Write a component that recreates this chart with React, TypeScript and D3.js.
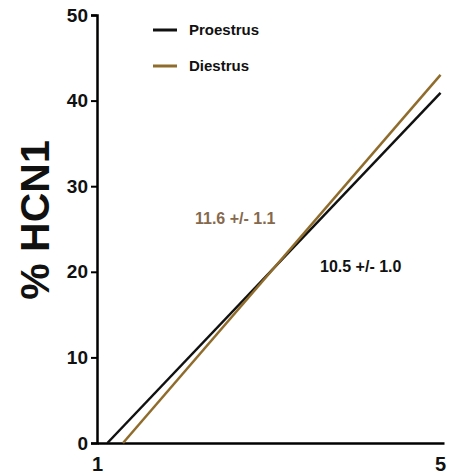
import { useEffect, useRef } from "react";
import * as d3 from "d3";

const seriesNames = ["Proestrus", "Diestrus"];
const seriesColors = ["#111111", "#8f6c2c"];
// regression lines: [x, y] endpoints
const proestrus: [number, number][] = [
  [1.12, 0],
  [4.96, 40.9],
];
const diestrus: [number, number][] = [
  [1.3, 0],
  [4.96, 43.0],
];
const slopeLabels = ["10.5 +/- 1.0", "11.6 +/- 1.1"];
const yTicks = [0, 10, 20, 30, 40, 50];
const xTicks = [1, 5];

export default function App() {
  const ref = useRef<SVGSVGElement>(null);

  useEffect(() => {
    const svg = d3.select(ref.current);
    svg.selectAll("*").remove();

    const font = "Arial, 'Liberation Sans', sans-serif";
    const x = d3.scaleLinear().domain([1, 5]).range([97, 444]);
    const y = d3.scaleLinear().domain([0, 50]).range([443, 15]);

    // y axis
    const yAxis = svg
      .append("g")
      .attr("transform", "translate(97,0)")
      .call(d3.axisLeft(y).tickValues(yTicks).tickFormat(d3.format("d")).tickSize(6).tickPadding(3));
    yAxis.select(".domain").attr("stroke", "#000").attr("stroke-width", 2.5);
    yAxis.selectAll(".tick line").attr("stroke", "#000").attr("stroke-width", 2);
    yAxis
      .selectAll(".tick text")
      .attr("font-family", font)
      .attr("font-weight", "bold")
      .attr("font-size", 19)
      .attr("fill", "#111");

    // x axis
    const xAxis = svg
      .append("g")
      .attr("transform", "translate(0,443)")
      .call(
        d3
          .axisBottom(x)
          .tickValues(xTicks)
          .tickFormat(d3.format("d"))
          .tickSize(0)
          .tickPadding(0)
          .tickSizeOuter(0)
      );
    xAxis.select(".domain").attr("stroke", "#000").attr("stroke-width", 2.5);
    xAxis
      .selectAll(".tick text")
      .attr("font-family", font)
      .attr("font-weight", "bold")
      .attr("font-size", 20)
      .attr("fill", "#111")
      .attr("dy", 0)
      .attr("dx", (d) => ((d as number) === 5 ? -4 : 0))
      .attr("y", 28);

    // y label
    svg
      .append("text")
      .attr("transform", "translate(49,220) rotate(-90)")
      .attr("text-anchor", "middle")
      .attr("font-family", font)
      .attr("font-weight", "bold")
      .attr("font-size", 41)
      .attr("fill", "#111")
      .text("% HCN1");

    const line = d3
      .line<[number, number]>()
      .x((d) => x(d[0]))
      .y((d) => y(d[1]));

    [proestrus, diestrus].forEach((d, i) => {
      svg
        .append("path")
        .attr("d", line(d))
        .attr("fill", "none")
        .attr("stroke", seriesColors[i])
        .attr("stroke-width", 2.5);
    });

    // legend
    seriesNames.forEach((name, i) => {
      const ly = 30 + i * 36;
      svg
        .append("line")
        .attr("x1", 153)
        .attr("x2", 177)
        .attr("y1", ly)
        .attr("y2", ly)
        .attr("stroke", seriesColors[i])
        .attr("stroke-width", 3);
      svg
        .append("text")
        .attr("x", 189)
        .attr("y", ly + 5)
        .attr("font-family", font)
        .attr("font-weight", "bold")
        .attr("font-size", 15)
        .attr("fill", "#111")
        .text(name);
    });

    // slope annotations
    svg
      .append("text")
      .attr("x", 320)
      .attr("y", 272)
      .attr("font-family", font)
      .attr("font-weight", "bold")
      .attr("font-size", 16)
      .attr("fill", "#111")
      .text(slopeLabels[0]);
    svg
      .append("text")
      .attr("x", 195)
      .attr("y", 224)
      .attr("font-family", font)
      .attr("font-weight", "bold")
      .attr("font-size", 16)
      .attr("fill", "#86694d")
      .text(slopeLabels[1]);
  }, []);

  return (
    <svg
      ref={ref}
      width={451}
      height={474}
      style={{ position: "absolute", left: 0, top: 0, background: "#fff" }}
    />
  );
}
